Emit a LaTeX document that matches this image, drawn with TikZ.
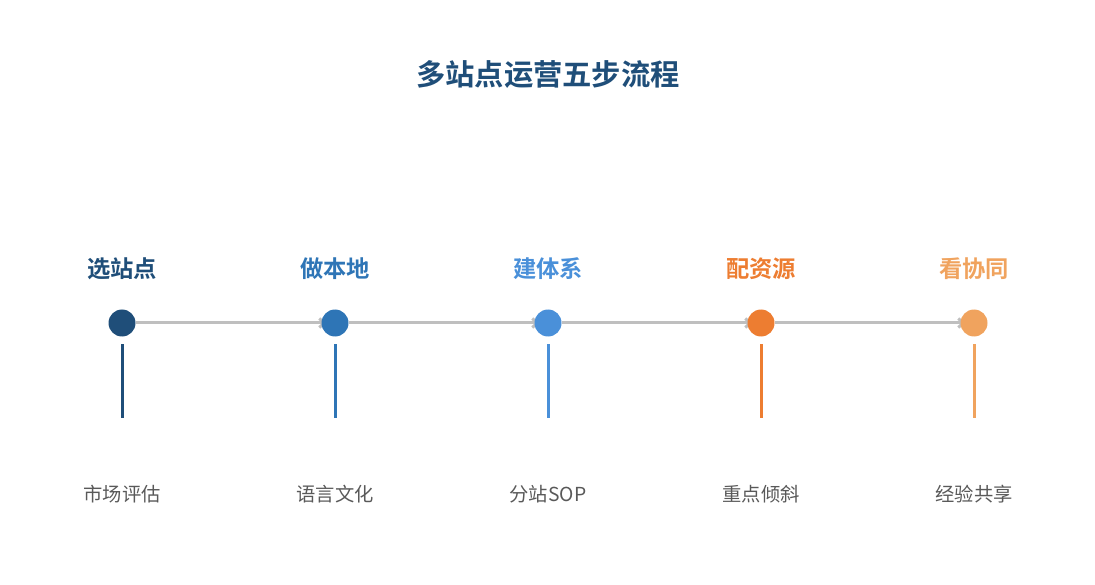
\documentclass[tikz,border=0pt]{standalone}
\usepackage{fontspec}
\setmainfont{Noto Sans CJK SC}[BoldFont={Noto Sans CJK SC Bold}]
\usepackage{xcolor}
\usepackage{tikz}
\usetikzlibrary{arrows.meta}
\usetikzlibrary{backgrounds}
\definecolor{stepA}{HTML}{1F4E79}
\definecolor{stepB}{HTML}{2E75B6}
\definecolor{stepC}{HTML}{4A90D9}
\definecolor{stepD}{HTML}{ED7D31}
\definecolor{stepE}{HTML}{F0A35E}
\definecolor{flowgray}{HTML}{BFBFBF}
\definecolor{notegray}{HTML}{595959}
\tikzset{dot/.style={circle, fill=#1, minimum size=27pt, inner sep=0pt, outer sep=0pt}, dot/.default={stepA}}
\tikzset{steplabel/.style={text=#1, font=\bfseries\fontsize{23.3}{26}\selectfont}}
\tikzset{stem/.style={draw=#1, line width=3pt}}
\tikzset{flow/.style={draw=flowgray, line width=3pt, -{Straight Barb[length=5pt, width=9pt]}, shorten >=-5pt}}

\begin{document}
\begin{tikzpicture}[x=1pt, y=-1pt]
\useasboundingbox (0, 0) rectangle (1095, 585);
 \node[text=stepA, font=\bfseries\fontsize{29.3}{32}\selectfont] (title) at (548, 74) {多站点运营五步流程};
 % circles
  \node[dot=stepA] (s1) at (122, 323) {};
  \node[dot=stepB] (s2) at (335, 323) {};
  \node[dot=stepC] (s3) at (548, 323) {};
  \node[dot=stepD] (s4) at (761, 323) {};
  \node[dot=stepE] (s5) at (974, 323) {};
  % arrows behind the circles
  \begin{scope}[on background layer]
   \draw[flow] (s1) -- (s2);
   \draw[flow] (s2) -- (s3);
   \draw[flow] (s3) -- (s4);
   \draw[flow] (s4) -- (s5);
  \end{scope}
  % step names
   \node[steplabel=stepA] (t1) at (122, 269) {选站点};
   \node[steplabel=stepB] (t2) at (335, 269) {做本地};
   \node[steplabel=stepC] (t3) at (548, 269) {建体系};
   \node[steplabel=stepD] (t4) at (761, 269) {配资源};
   \node[steplabel=stepE] (t5) at (974, 269) {看协同};
  % stems
   \coordinate (e1) at (122, 418);
   \coordinate (e2) at (335, 418);
   \coordinate (e3) at (548, 418);
   \coordinate (e4) at (761, 418);
   \coordinate (e5) at (974, 418);
   \draw[stem=stepA] ([yshift=-7.5pt]s1.south) -- (e1);
   \draw[stem=stepB] ([yshift=-7.5pt]s2.south) -- (e2);
   \draw[stem=stepC] ([yshift=-7.5pt]s3.south) -- (e3);
   \draw[stem=stepD] ([yshift=-7.5pt]s4.south) -- (e4);
   \draw[stem=stepE] ([yshift=-7.5pt]s5.south) -- (e5);
  % notes
   \node[text=notegray, font=\fontsize{19.3}{22}\selectfont] (n1) at (122, 494) {市场评估};
   \node[text=notegray, font=\fontsize{19.3}{22}\selectfont] (n2) at (335, 494) {语言文化};
   \node[text=notegray, font=\fontsize{19.3}{22}\selectfont] (n3) at (548, 494) {分站SOP};
   \node[text=notegray, font=\fontsize{19.3}{22}\selectfont] (n4) at (761, 494) {重点倾斜};
   \node[text=notegray, font=\fontsize{19.3}{22}\selectfont] (n5) at (974, 494) {经验共享};
  \end{tikzpicture}
\end{document}
